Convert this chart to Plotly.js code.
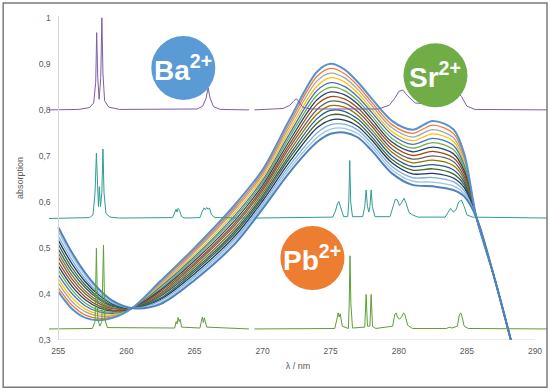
<!DOCTYPE html>
<html>
<head>
<meta charset="utf-8">
<script src="https://cdn.plot.ly/plotly-3.0.1.min.js"></script>
<style>
html,body{margin:0;padding:0;background:#fff;}
#chart{width:550px;height:391px;}
</style>
</head>
<body>
<div id="chart"></div>
<script>
// ---- broad absorption bands (16 spectra) ----
const bandWavelength = [255, 256, 257, 258, 259, 260.5, 262.5, 265, 268, 270, 272, 274, 275, 276, 277, 278, 279.5, 281, 282.5, 284, 284.8, 285.7, 287, 288.4];
const bandAbsorbance = [
  [.405,.368,.348,.343,.348,.371,.428,.500,.595,.670,.780,.883,.900,.888,.860,.825,.776,.757,.776,.758,.705,.566,.437,.28],
  [.414,.376,.354,.347,.350,.371,.425,.495,.589,.664,.772,.873,.890,.879,.852,.817,.768,.749,.767,.749,.699,.566,.437,.28],
  [.424,.384,.361,.352,.353,.371,.421,.491,.584,.659,.765,.863,.880,.870,.844,.810,.761,.741,.757,.740,.693,.566,.437,.28],
  [.433,.392,.367,.356,.355,.371,.418,.486,.578,.653,.757,.852,.870,.861,.836,.802,.753,.733,.748,.732,.686,.566,.437,.28],
  [.442,.401,.374,.361,.358,.370,.415,.481,.572,.647,.749,.842,.859,.851,.828,.795,.746,.725,.738,.723,.680,.566,.437,.28],
  [.452,.409,.380,.365,.360,.370,.411,.477,.567,.642,.742,.832,.849,.842,.820,.787,.738,.717,.729,.714,.674,.566,.437,.28],
  [.461,.417,.387,.370,.363,.370,.408,.472,.561,.636,.734,.822,.839,.833,.812,.780,.730,.709,.719,.705,.668,.566,.437,.28],
  [.470,.425,.393,.374,.365,.370,.405,.467,.555,.630,.726,.812,.829,.824,.804,.772,.723,.701,.710,.696,.662,.566,.437,.28],
  [.480,.433,.400,.379,.368,.370,.401,.463,.550,.625,.719,.801,.819,.815,.796,.765,.715,.693,.700,.688,.655,.566,.437,.28],
  [.489,.441,.406,.383,.370,.370,.398,.458,.544,.619,.711,.791,.809,.806,.788,.757,.708,.685,.691,.679,.649,.566,.437,.28],
  [.498,.449,.413,.388,.373,.370,.395,.453,.538,.613,.703,.781,.799,.797,.780,.750,.700,.677,.681,.670,.643,.566,.437,.28],
  [.508,.457,.419,.392,.375,.370,.391,.449,.533,.608,.696,.771,.789,.788,.772,.742,.692,.669,.672,.661,.637,.566,.437,.28],
  [.517,.466,.426,.397,.378,.369,.388,.444,.527,.602,.688,.761,.778,.778,.764,.735,.685,.661,.662,.652,.631,.566,.437,.28],
  [.526,.474,.432,.401,.380,.369,.385,.439,.521,.596,.680,.750,.768,.769,.756,.727,.677,.653,.653,.644,.624,.566,.437,.28],
  [.536,.482,.439,.406,.383,.369,.381,.435,.516,.591,.673,.740,.758,.760,.748,.720,.670,.645,.643,.635,.618,.566,.437,.28],
  [.545,.490,.445,.410,.385,.369,.378,.430,.510,.585,.665,.730,.748,.751,.740,.712,.662,.637,.634,.626,.612,.566,.437,.28]
];
const bandColors = ['#5b8fd0','#ed7d31','#a5a5a5','#ffc000','#4472c4','#70ad47','#264478','#9e480e','#636363','#997300','#255e91','#43682b','#1f3864','#7cafdd','#9dc3e6','#4f81bd'];

// ---- Ba2+ line spectrum ----
const baX = [254.3,256.5,257.3,257.6,257.75,257.82,257.9,258.0,258.12,258.2,258.28,258.4,258.7,259.5,265.2,265.6,265.85,266.0,266.15,266.4,266.9,269.0,269.2,269.4,271.5,272.0,272.3,272.5,272.7,272.95,273.5,278.5,279.3,279.7,280.0,280.3,280.6,281.2,282.5,283.3,283.7,283.95,284.2,284.6,285.0,285.6,290.9];
const baY = [0.800,0.801,0.805,0.815,0.86,0.968,0.87,0.823,0.87,1.0,0.88,0.82,0.806,0.801,0.802,0.808,0.825,0.848,0.825,0.807,0.801,0.800,null,0.800,0.803,0.81,0.82,0.824,0.816,0.806,0.802,0.802,0.81,0.825,0.84,0.843,0.832,0.815,0.812,0.825,0.84,0.852,0.845,0.829,0.808,0.801,0.800];

// ---- Sr2+ line spectrum (teal) ----
const srX = [254.3,257.3,257.55,257.7,257.8,257.88,257.95,258.02,258.1,258.2,258.28,258.36,258.5,258.8,259.5,263.4,263.55,263.65,263.72,263.8,263.9,264.05,264.3,265.4,265.55,265.7,265.8,265.9,266.0,266.1,266.25,266.5,269.0,269.2,269.4,275.15,275.35,275.5,275.6,275.75,275.95,276.25,276.33,276.4,276.47,276.6,277.35,277.5,277.6,277.7,277.8,277.88,277.97,278.06,278.25,279.35,279.55,279.75,279.9,280.05,280.2,280.38,280.55,280.75,281.0,281.4,283.4,283.6,283.8,284.0,284.2,284.4,284.6,284.8,285.0,285.4,290.9];
const srY = [0.564,0.566,0.572,0.62,0.706,0.62,0.59,0.633,0.59,0.62,0.715,0.62,0.575,0.567,0.565,0.566,0.575,0.584,0.578,0.586,0.582,0.568,0.565,0.566,0.578,0.587,0.583,0.588,0.584,0.587,0.572,0.566,0.565,null,0.565,0.567,0.58,0.597,0.601,0.588,0.568,0.568,0.6,0.69,0.6,0.568,0.568,0.59,0.626,0.59,0.578,0.59,0.626,0.59,0.568,0.568,0.59,0.606,0.604,0.592,0.598,0.608,0.596,0.577,0.572,0.567,0.567,0.578,0.586,0.578,0.583,0.6,0.604,0.59,0.572,0.567,0.565];

// ---- Pb2+ line spectrum (green) ----
const pbX = [254.3,257.5,257.7,257.8,257.9,258.05,258.2,258.32,258.42,258.6,263.55,263.65,263.72,263.8,263.88,263.95,264.05,265.4,265.5,265.58,265.65,265.72,265.8,265.9,269.0,269.2,269.4,275.3,275.45,275.55,275.62,275.7,275.85,276.3,276.36,276.42,276.48,276.6,277.5,277.6,277.7,277.88,277.97,278.07,278.3,279.55,279.7,279.8,279.9,280.05,280.2,280.35,280.45,280.65,281.0,283.5,283.7,283.9,284.3,284.45,284.55,284.65,284.8,285.1,290.9];
const pbY = [0.324,0.325,0.34,0.499,0.345,0.33,0.34,0.506,0.345,0.327,0.326,0.34,0.335,0.349,0.34,0.345,0.328,0.326,0.34,0.35,0.338,0.348,0.34,0.328,0.324,null,0.324,0.325,0.345,0.359,0.35,0.357,0.33,0.325,0.38,0.483,0.38,0.326,0.328,0.399,0.33,0.33,0.399,0.33,0.325,0.33,0.355,0.359,0.35,0.345,0.35,0.359,0.355,0.332,0.325,0.325,0.328,0.326,0.33,0.355,0.359,0.35,0.33,0.325,0.324];

const ionLabels = ['Ba<sup>2+</sup>', 'Sr<sup>2+</sup>', 'Pb<sup>2+</sup>'];
const ionColors = ['#5b9bd5', '#70ad47', '#ed7d31'];
const ionPos = [[264.18, 0.891], [282.69, 0.875], [273.66, 0.478]];

const xTicks = [255, 260, 265, 270, 275, 280, 285, 290];

const traces = [];
const order = [1,2,3,4,5,6,7,8,9,10,11,12,13,14,0,15];
order.forEach(function(k){
  traces.push({
    x: bandWavelength, y: bandAbsorbance[k], type: 'scatter', mode: 'lines',
    line: {color: bandColors[k], width: (k===0||k===15)?2:1.3, shape: 'spline', smoothing: 0.9},
    hoverinfo: 'skip', showlegend: false
  });
});
traces.push({x: baX, y: baY, type:'scatter', mode:'lines', line:{color:'#7e5ca8', width:1}, connectgaps:false, showlegend:false});
traces.push({x: srX, y: srY, type:'scatter', mode:'lines', line:{color:'#2f9c94', width:1}, connectgaps:false, showlegend:false});
traces.push({x: pbX, y: pbY, type:'scatter', mode:'lines', line:{color:'#5e9e34', width:1}, connectgaps:false, showlegend:false});

const shapes = [
  {type:'line', xref:'x', yref:'y', x0:255, x1:290, y0:0.3, y1:0.3, line:{color:'#d9d9d9', width:1}, layer:'below'},
  {type:'rect', xref:'paper', yref:'paper', x0:-0.092, x1:1.0, y0:-0.146, y1:1.04, line:{color:'#7a7a7a', width:1.5}}
];
const annotations = [];
ionLabels.forEach(function(lbl, i){
  shapes.push({type:'circle', xref:'x', yref:'y', xsizemode:'pixel', ysizemode:'pixel',
    xanchor: ionPos[i][0], yanchor: ionPos[i][1], x0:-32, x1:32, y0:-32, y1:32,
    fillcolor: ionColors[i], line:{width:0}, layer:'above'});
  annotations.push({x: ionPos[i][0], y: ionPos[i][1], xref:'x', yref:'y', text:'<b>'+lbl+'</b>',
    showarrow:false, xanchor:'center', yanchor:'middle',
    font:{family:'Liberation Sans, Arial, sans-serif', size:28, color:'#ffffff'}});
});

const layout = {
  width: 550, height: 391,
  margin: {l:49, r:3, t:16, b:51, pad:0},
  paper_bgcolor:'#ffffff', plot_bgcolor:'#ffffff',
  separators: ', ',
  font: {family:'Liberation Sans, Arial, sans-serif', color:'#595959', size:9},
  xaxis: {range:[254.32, 290.88], tickvals: xTicks, showgrid:false, zeroline:false, showline:false,
    ticks:'', tickfont:{size:8.5, color:'#595959'}, ticklabelstandoff:4,
    title:{text:'λ / nm', font:{size:9, color:'#595959'}, standoff:8}},
  yaxis: {range:[0.3, 1.004], dtick:0.1, tick0:0.3, showgrid:false, zeroline:false, showline:true,
    linecolor:'#d9d9d9', linewidth:1, anchor:'free', position:0.0187, ticks:'',
    tickfont:{size:8.5, color:'#595959'}, ticklabelstandoff:6,
    title:{text:'absorption', font:{size:9, color:'#595959'}, standoff:12}},
  shapes: shapes,
  annotations: annotations,
  showlegend: false
};

Plotly.newPlot('chart', traces, layout, {staticPlot:true, displayModeBar:false});
</script>
</body>
</html>
